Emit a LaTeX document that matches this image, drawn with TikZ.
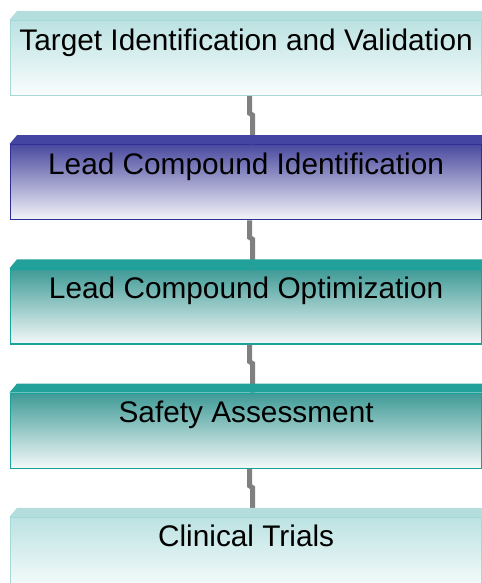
\documentclass[tikz,border=0pt]{standalone}
\usepackage{fontspec}
\setmainfont{Liberation Sans}
\usepackage{tikz}
\usetikzlibrary{positioning}
\definecolor{paleedge}{HTML}{A6D8D8}
\definecolor{paletop}{HTML}{BCE2E2}
\definecolor{palebar}{HTML}{B4DEDE}
\definecolor{navyedge}{HTML}{2E2E96}
\definecolor{navytop}{HTML}{4A4AA0}
\definecolor{navybar}{HTML}{4444A2}
\definecolor{tealedge}{HTML}{1AA39C}
\definecolor{tealtop}{HTML}{3E9A96}
\definecolor{tealbar}{HTML}{22A09A}
\definecolor{linkgray}{HTML}{808080}

\begin{document}
\begin{tikzpicture}[x=1bp,y=1bp,
    stage/.style={draw, line width=1.2bp, minimum width=471bp, inner sep=0pt,
      text height=29.5bp, text depth=45.5bp, font=\fontsize{29.8bp}{35bp}\selectfont},
    pale/.style={stage, draw=paleedge, top color=paletop, middle color=paletop!45!white, bottom color=paletop!8!white},
    navy/.style={stage, draw=navyedge, top color=navytop, middle color=navytop!40!white, bottom color=navytop!6!white},
    teal/.style={stage, draw=tealedge, top color=tealtop, middle color=tealtop!45!white, bottom color=tealtop!6!white},
    link/.style={draw=linkgray, line width=5bp},
    node distance=48bp]
      \useasboundingbox (0,0) rectangle (482,583);
      % stages
      \node[pale, anchor=north west] (target) at (10,563) {Target Identification and Validation};
      \node[navy, below=of target] (lead) {Lead Compound Identification};
      \node[teal, below=of lead] (optim) {Lead Compound Optimization};
      \node[teal, below=of optim] (safety) {Safety Assessment};
      \node[pale, below=of safety] (clinic) {Clinical Trials};
      % connectors
      \foreach \a/\b in {target/lead,lead/optim,optim/safety,safety/clinic}
      \draw[link] ([xshift=3.5bp]\a.south) -- ++(0,-17) -- ++(3,-2) -- ([xshift=6.5bp]\b.north);
      % bevel on top
      \foreach \n/\c in {target/palebar,lead/navybar,optim/tealbar,safety/tealbar,clinic/palebar}
      \fill[\c] ([xshift=-0.6bp]\n.north west) -- ++(7.6,9) -- ([yshift=9bp]\n.north east) -- (\n.north east) -- cycle;
    \end{tikzpicture}
\end{document}
